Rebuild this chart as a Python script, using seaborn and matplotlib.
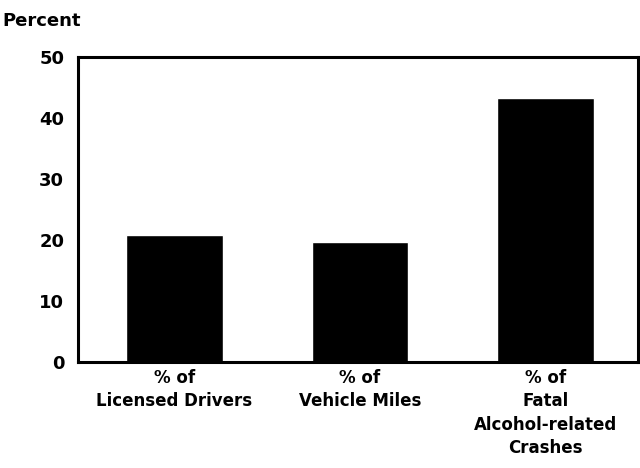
import matplotlib
matplotlib.use('Agg')
import matplotlib.pyplot as plt
import seaborn as sns
import pandas as pd

# Data
categories = ['% of\nLicensed Drivers', '% of\nVehicle Miles', '% of\nFatal\nAlcohol-related\nCrashes']
percent = [20.8, 19.7, 43.3]
y_ticks = [0, 10, 20, 30, 40, 50]

sns.set_theme(style='white')
plt.rcParams['font.family'] = ['DejaVu Sans']
plt.rcParams['font.weight'] = 'bold'
plt.rcParams['text.color'] = 'black'
plt.rcParams['xtick.color'] = 'black'
plt.rcParams['ytick.color'] = 'black'

df = pd.DataFrame({'category': categories, 'percent': percent})

fig = plt.figure(figsize=(6.4, 4.68), dpi=100)
ax = fig.add_axes([0.122, 0.226, 0.875, 0.652])

sns.barplot(data=df, x='category', y='percent', color='black', width=0.52,
            saturation=1, ax=ax)

ax.set_ylim(0, 50)
ax.set_xlim(-0.52, 2.5)
ax.set_yticks(y_ticks)
ax.set_yticklabels([str(t) for t in y_ticks], fontsize=13, fontweight='bold')
ax.set_xticks(range(len(categories)))
ax.set_xticklabels(categories, fontsize=12, fontweight='bold', linespacing=1.38)
ax.tick_params(axis='both', length=0)
ax.tick_params(axis='y', pad=10)
ax.tick_params(axis='x', pad=5)
ax.set_xlabel('')
ax.set_ylabel('')

for side in ['left', 'right', 'top', 'bottom']:
    ax.spines[side].set_visible(True)
    ax.spines[side].set_color('black')
    ax.spines[side].set_linewidth(2.2)

fig.text(0.004, 0.955, 'Percent', fontsize=13, fontweight='bold', ha='left', va='center')

fig.savefig('out.png', dpi=100, facecolor='white')
